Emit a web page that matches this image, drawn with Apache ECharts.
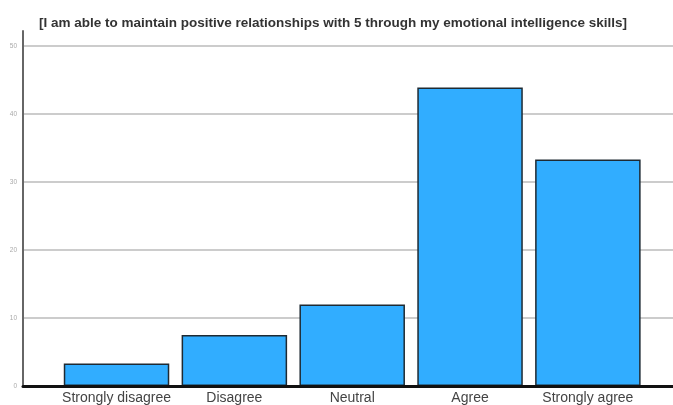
<!DOCTYPE html>
<html>
<head>
<meta charset="utf-8">
<style>
  html, body { margin: 0; padding: 0; background: #fff; }
  #chart { width: 673px; height: 405px; }
</style>
<script src="https://cdn.jsdelivr.net/npm/echarts@6/dist/echarts.min.js"></script>
</head>
<body>
<div id="chart"></div>
<script>
// Survey responses (percent of respondents)
const categories = ['Strongly disagree', 'Disagree', 'Neutral', 'Agree', 'Strongly agree'];
const percentages = [3.3, 7.5, 12, 43.9, 33.3];
const yTicks = [0, 10, 20, 30, 40, 50];

const chartTitle = '[I am able to maintain positive relationships with 5 through my emotional intelligence skills]';
const yMax = yTicks[yTicks.length - 1];
const yStep = yTicks[1] - yTicks[0];

const chart = echarts.init(document.getElementById('chart'), null, { renderer: 'canvas' });

chart.setOption({
  animation: false,
  backgroundColor: '#ffffff',
  title: {
    text: chartTitle,
    left: 328,
    textAlign: 'center',
    top: 11,
    textStyle: {
      fontFamily: 'Liberation Sans, Arial, sans-serif',
      fontSize: 13.5,
      fontWeight: 'bold',
      color: '#333333'
    }
  },
  grid: [
    // frame: gridlines, tick labels, baseline
    { left: 23, right: 0, top: 46, bottom: 19 },
    // bars and category labels
    { left: 57.6, right: 26.2, top: 46, bottom: 19 },
    // vertical axis line, slightly taller than the top gridline
    { left: 23, right: 0, top: 31, bottom: 19 }
  ],
  xAxis: [
    {
      gridIndex: 0, type: 'category', data: [''],
      axisLine: { show: true, lineStyle: { color: '#111111', width: 3 } },
      axisTick: { show: false }, axisLabel: { show: false }, splitLine: { show: false },
      z: 5
    },
    {
      gridIndex: 1, type: 'category', data: categories,
      axisLine: { show: false }, axisTick: { show: false },
      axisLabel: {
        interval: 0,
        margin: 5,
        fontFamily: 'Liberation Sans, Arial, sans-serif',
        fontSize: 14,
        color: '#444444'
      }
    },
    {
      gridIndex: 2, type: 'category', data: [''], show: false
    }
  ],
  yAxis: [
    {
      gridIndex: 0, type: 'value', min: 0, max: yMax, interval: yStep,
      axisLine: { show: false }, axisTick: { show: false },
      axisLabel: {
        margin: 6,
        fontFamily: 'Liberation Sans, Arial, sans-serif',
        fontSize: 6.5,
        color: '#aaaaaa'
      },
      splitLine: { show: true, lineStyle: { color: '#bbbbbb', width: 1.5 } }
    },
    {
      gridIndex: 1, type: 'value', min: 0, max: yMax, interval: yStep,
      show: false, splitLine: { show: false }
    },
    {
      gridIndex: 2, type: 'value', min: 0, max: 1,
      axisLine: { show: true, lineStyle: { color: '#666666', width: 2 } },
      axisTick: { show: false }, axisLabel: { show: false }, splitLine: { show: false }
    }
  ],
  series: [
    {
      type: 'bar',
      xAxisIndex: 1,
      yAxisIndex: 1,
      data: percentages,
      barWidth: 105.5,
      itemStyle: {
        color: '#31adff',
        borderColor: '#1e2a33',
        borderWidth: 1.5
      },
      z: 3
    }
  ]
});
</script>
</body>
</html>
